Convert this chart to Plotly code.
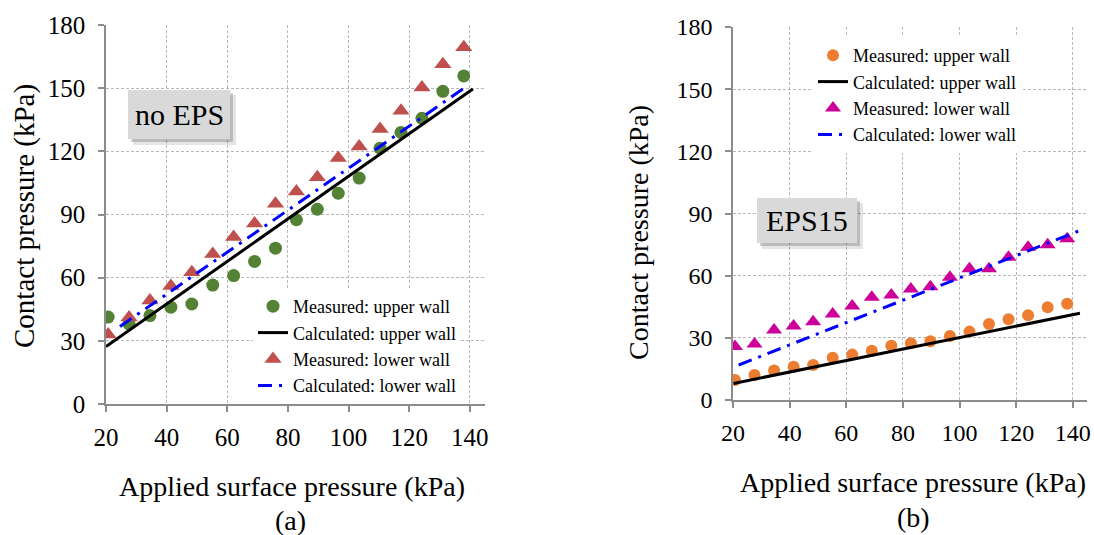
import plotly.graph_objects as go

W, H = 1094, 535

# ---------------- data ----------------
pressure = [20.7, 27.6, 34.5, 41.4, 48.3, 55.2, 62.1, 69.0, 75.9, 82.8,
            89.7, 96.6, 103.5, 110.4, 117.3, 124.2, 131.1, 138.0]

# (a) no EPS
a_meas_upper = [41.3, 38.0, 42.0, 46.0, 47.5, 56.5, 61.0, 67.7, 74.0, 87.5,
                92.5, 100.1, 107.3, 121.5, 129.0, 135.7, 148.5, 155.8]
a_meas_lower = [33.0, 41.1, 49.2, 56.1, 62.6, 71.2, 79.3, 85.7, 95.1, 100.9,
                107.7, 116.8, 122.3, 130.6, 139.3, 150.3, 161.4, 169.4]
a_calc_upper_x = [20.0, 141.0]
a_calc_upper = [27.3, 149.6]
a_calc_lower_x = [24.6, 138.4]
a_calc_lower = [36.8, 150.3]

# (b) EPS15
b_meas_upper = [9.7, 12.1, 14.2, 16.1, 16.9, 20.4, 21.9, 23.8, 26.2, 27.4,
                28.3, 30.9, 33.0, 36.7, 39.0, 40.9, 44.8, 46.4]
b_meas_lower = [25.8, 27.0, 33.8, 35.7, 37.8, 41.5, 45.4, 49.6, 50.7, 53.6,
                54.7, 59.2, 63.3, 63.3, 68.9, 73.7, 74.9, 77.8]
b_calc_upper_x = [20.2, 142.5]
b_calc_upper = [8.0, 41.9]
b_calc_lower_x = [22.0, 142.5]
b_calc_lower = [16.9, 81.8]

x_ticks = [20, 40, 60, 80, 100, 120, 140]
y_ticks = [0, 30, 60, 90, 120, 150, 180]

names = ["Measured: upper wall", "Calculated: upper wall",
         "Measured: lower wall", "Calculated: lower wall"]

# ---------------- styling ----------------
FONT = "Liberation Serif, Times New Roman, serif"
GREEN = "#548235"
RED = "#c0504d"
ORANGE = "#ed7d31"
MAGENTA = "#cc0099"
BLUE = "#0000ff"
DASHDOT = "14px,7px,3px,7px"


def px(x):
    return x / W


def py(y):
    return 1 - y / H


fig = go.Figure()

# panel (a)
fig.add_trace(go.Scatter(x=pressure, y=a_meas_upper, mode="markers", name=names[0],
                         marker=dict(symbol="circle", size=13, color=GREEN),
                         xaxis="x", yaxis="y", legend="legend"))
fig.add_trace(go.Scatter(x=a_calc_upper_x, y=a_calc_upper, mode="lines", name=names[1],
                         line=dict(color="black", width=3),
                         xaxis="x", yaxis="y", legend="legend"))
fig.add_trace(go.Scatter(x=pressure, y=a_meas_lower, mode="markers", name=names[2],
                         marker=dict(symbol="triangle-up", size=15, color=RED),
                         xaxis="x", yaxis="y", legend="legend"))
fig.add_trace(go.Scatter(x=a_calc_lower_x, y=a_calc_lower, mode="lines", name=names[3],
                         line=dict(color=BLUE, width=3, dash=DASHDOT),
                         xaxis="x", yaxis="y", legend="legend"))

# panel (b)
fig.add_trace(go.Scatter(x=pressure, y=b_meas_upper, mode="markers", name=names[0],
                         marker=dict(symbol="circle", size=12, color=ORANGE),
                         xaxis="x2", yaxis="y2", legend="legend2"))
fig.add_trace(go.Scatter(x=b_calc_upper_x, y=b_calc_upper, mode="lines", name=names[1],
                         line=dict(color="black", width=3),
                         xaxis="x2", yaxis="y2", legend="legend2"))
fig.add_trace(go.Scatter(x=pressure, y=b_meas_lower, mode="markers", name=names[2],
                         marker=dict(symbol="triangle-up", size=14, color=MAGENTA),
                         xaxis="x2", yaxis="y2", legend="legend2"))
fig.add_trace(go.Scatter(x=b_calc_lower_x, y=b_calc_lower, mode="lines", name=names[3],
                         line=dict(color=BLUE, width=3, dash=DASHDOT),
                         xaxis="x2", yaxis="y2", legend="legend2"))


def xaxis_style(domain, anchor, fsize):
    return dict(domain=domain, anchor=anchor, range=[20, 145], tickvals=x_ticks,
                showline=True, linecolor="#8c8c8c", linewidth=1.5,
                ticks="outside", ticklen=6, tickcolor="#8c8c8c", tickwidth=1.5,
                ticklabelstandoff=4,
                showgrid=True, gridcolor="#b8b8b8", griddash="3px,2px", gridwidth=1,
                zeroline=False, automargin=False,
                tickfont=dict(family=FONT, size=fsize, color="black"))


def yaxis_style(domain, anchor, fsize):
    return dict(domain=domain, anchor=anchor, range=[0, 180], tickvals=y_ticks,
                showline=True, linecolor="#8c8c8c", linewidth=1.5,
                ticks="outside", ticklen=6, tickcolor="#8c8c8c", tickwidth=1.5,
                ticklabelstandoff=8,
                showgrid=True, gridcolor="#b8b8b8", griddash="3px,2px", gridwidth=1,
                zeroline=False, automargin=False,
                tickfont=dict(family=FONT, size=fsize, color="black"))


legend_common = dict(bgcolor="white", borderwidth=0, xanchor="left", yanchor="top",
                     font=dict(family=FONT, size=18, color="black"),
                     tracegroupgap=0, itemsizing="trace")

fig.update_layout(
    width=W, height=H, autosize=False,
    margin=dict(l=0, r=0, t=0, b=0, pad=0, autoexpand=False),
    paper_bgcolor="white", plot_bgcolor="white",
    xaxis=xaxis_style([px(106), px(485)], "y", 25),
    yaxis=yaxis_style([py(404), py(25)], "x", 25),
    xaxis2=xaxis_style([px(733), px(1087)], "y2", 24),
    yaxis2=yaxis_style([py(400), py(27)], "x2", 24),
    legend=dict(x=px(253), y=py(288), **legend_common),
    legend2=dict(x=px(813), y=py(37), **legend_common),
)

shapes = []


def label_box(x0, y0, x1, y1):
    # soft shadow then box
    shapes.append(dict(type="rect", xref="paper", yref="paper",
                       x0=px(x0 + 5), x1=px(x1 + 6), y0=py(y0 + 5), y1=py(y1 + 6),
                       line=dict(width=0), fillcolor="rgba(0,0,0,0.10)", layer="above"))
    shapes.append(dict(type="rect", xref="paper", yref="paper",
                       x0=px(x0 + 3), x1=px(x1 + 3), y0=py(y0 + 3), y1=py(y1 + 3),
                       line=dict(width=0), fillcolor="rgba(0,0,0,0.18)", layer="above"))
    shapes.append(dict(type="rect", xref="paper", yref="paper",
                       x0=px(x0), x1=px(x1), y0=py(y0), y1=py(y1),
                       line=dict(width=0), fillcolor="#d9d9d9", layer="above"))


label_box(128, 90, 230, 139)
label_box(757, 198, 857, 243)


def ann(text, x, y, size, angle=0):
    return dict(text=text, x=px(x), y=py(y), xref="paper", yref="paper",
                xanchor="center", yanchor="middle", showarrow=False, textangle=angle,
                font=dict(family=FONT, size=size, color="black"))


annotations = [
    ann("no EPS", 179, 114, 30),
    ann("EPS15", 807, 220, 30),
    ann("Applied surface pressure (kPa)", 292, 486, 28),
    ann("(a)", 291, 520, 28),
    ann("Applied surface pressure (kPa)", 913, 482, 28),
    ann("(b)", 913, 517, 28),
    ann("Contact pressure (kPa)", 25, 216, 29, -90),
    ann("Contact pressure (kPa)", 638, 233, 28, -90),
]

fig.update_layout(shapes=shapes, annotations=annotations)

# remove the default page margin so the figure sits at the window origin
fig.write_html("out.html", config={"displayModeBar": False},
               post_script="document.body.style.margin='0';")
